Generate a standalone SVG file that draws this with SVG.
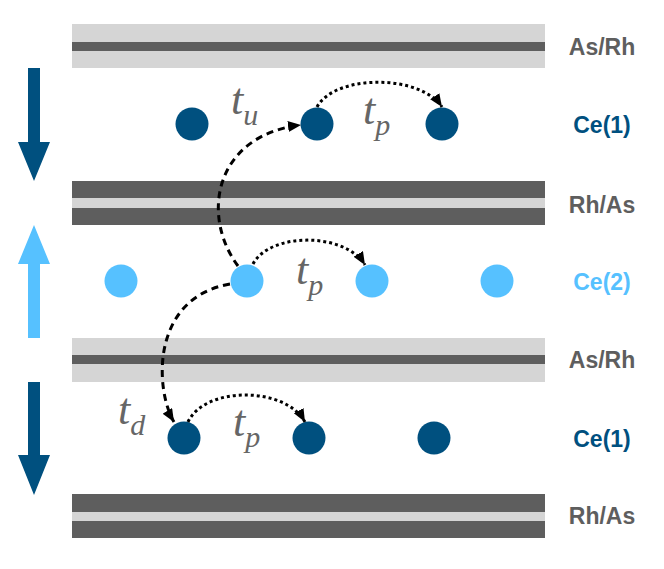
<svg xmlns="http://www.w3.org/2000/svg" width="664" height="569" viewBox="0 0 664 569">
<style>
.lt{fill:#d5d5d5}
.dk{fill:#5e5e5e}
.c1{fill:#00507f}
.c2{fill:#56c1ff}
.lbl{font-family:"Liberation Sans",Arial,sans-serif;font-weight:bold;font-size:23px;text-anchor:middle}
.g{fill:#5e5e5e}
.tt{font-family:"Liberation Serif","Times New Roman",serif;font-style:italic;fill:#666666}
.t{font-size:44px}
.s{font-size:30px}
.dot{fill:none;stroke:#000;stroke-width:3;stroke-dasharray:3 3}
.dash{fill:none;stroke:#000;stroke-width:3;stroke-dasharray:7 5}
</style>
<defs>
<marker id="ah" markerUnits="userSpaceOnUse" markerWidth="14" markerHeight="12" refX="13" refY="5.5" orient="auto">
<path d="M0,0 L13,5.5 L0,11 z" fill="#000"/>
</marker>
</defs>
<rect width="664" height="569" fill="#fff"/>
<g id="layer-AsRh-1">
<rect class="lt" x="72" y="24" width="473" height="44"/>
<rect class="dk" x="72" y="42" width="473" height="9"/>
</g>
<g id="layer-RhAs-1">
<rect class="dk" x="72" y="181" width="473" height="44"/>
<rect class="lt" x="72" y="198" width="473" height="10"/>
</g>
<g id="layer-AsRh-2">
<rect class="lt" x="72" y="338" width="473" height="44"/>
<rect class="dk" x="72" y="355" width="473" height="9"/>
</g>
<g id="layer-RhAs-2">
<rect class="dk" x="72" y="494" width="473" height="44"/>
<rect class="lt" x="72" y="512" width="473" height="9"/>
</g>
<g id="spin-arrows">
<polygon class="c1" points="28,68 40,68 40,142 50,142 34,181 18,142 28,142"/>
<polygon class="c2" points="34,225 50,264 40,264 40,338 28,338 28,264 18,264"/>
<polygon class="c1" points="28,382 40,382 40,455 50,455 34,495 18,455 28,455"/>
</g>
<g id="ce1-top">
<circle class="c1" cx="192" cy="124" r="16.5"/>
<circle class="c1" cx="317" cy="124" r="16.5"/>
<circle class="c1" cx="442" cy="124" r="16.5"/>
</g>
<g id="ce2">
<circle class="c2" cx="121" cy="281" r="16.5"/>
<circle class="c2" cx="247" cy="281" r="16.5"/>
<circle class="c2" cx="372" cy="281" r="16.5"/>
<circle class="c2" cx="497" cy="281" r="16.5"/>
</g>
<g id="ce1-bottom">
<circle class="c1" cx="184" cy="438" r="16.5"/>
<circle class="c1" cx="309" cy="438" r="16.5"/>
<circle class="c1" cx="434" cy="438" r="16.5"/>
</g>
<g id="connectors">
<path class="dot" d="M317,107 C335,74 420,74 442,107" marker-end="url(#ah)"/>
<path class="dot" d="M253,264 C270,232 345,232 365,265" marker-end="url(#ah)"/>
<path class="dot" d="M188,422 C205,386 285,386 305,422" marker-end="url(#ah)"/>
<path class="dash" d="M238,266 C200,215 215,135 301,125" marker-end="url(#ah)"/>
<path class="dash" d="M230,284 C150,298 155,390 174,422" marker-end="url(#ah)"/>
</g>
<g id="hop-labels">
<text class="tt" x="231" y="114"><tspan class="t">t</tspan><tspan class="s" dy="11">u</tspan></text>
<text class="tt" x="363" y="124"><tspan class="t">t</tspan><tspan class="s" dy="11">p</tspan></text>
<text class="tt" x="296" y="284"><tspan class="t">t</tspan><tspan class="s" dy="11">p</tspan></text>
<text class="tt" x="118" y="424"><tspan class="t">t</tspan><tspan class="s" dy="11">d</tspan></text>
<text class="tt" x="233" y="436"><tspan class="t">t</tspan><tspan class="s" dy="11">p</tspan></text>
</g>
<g id="layer-labels">
<text class="lbl g" x="602" y="55">As/Rh</text>
<text class="lbl c1" x="602" y="133">Ce(1)</text>
<text class="lbl g" x="602" y="213">Rh/As</text>
<text class="lbl c2" x="602" y="290">Ce(2)</text>
<text class="lbl g" x="602" y="368">As/Rh</text>
<text class="lbl c1" x="602" y="447">Ce(1)</text>
<text class="lbl g" x="602" y="524">Rh/As</text>
</g>
</svg>
